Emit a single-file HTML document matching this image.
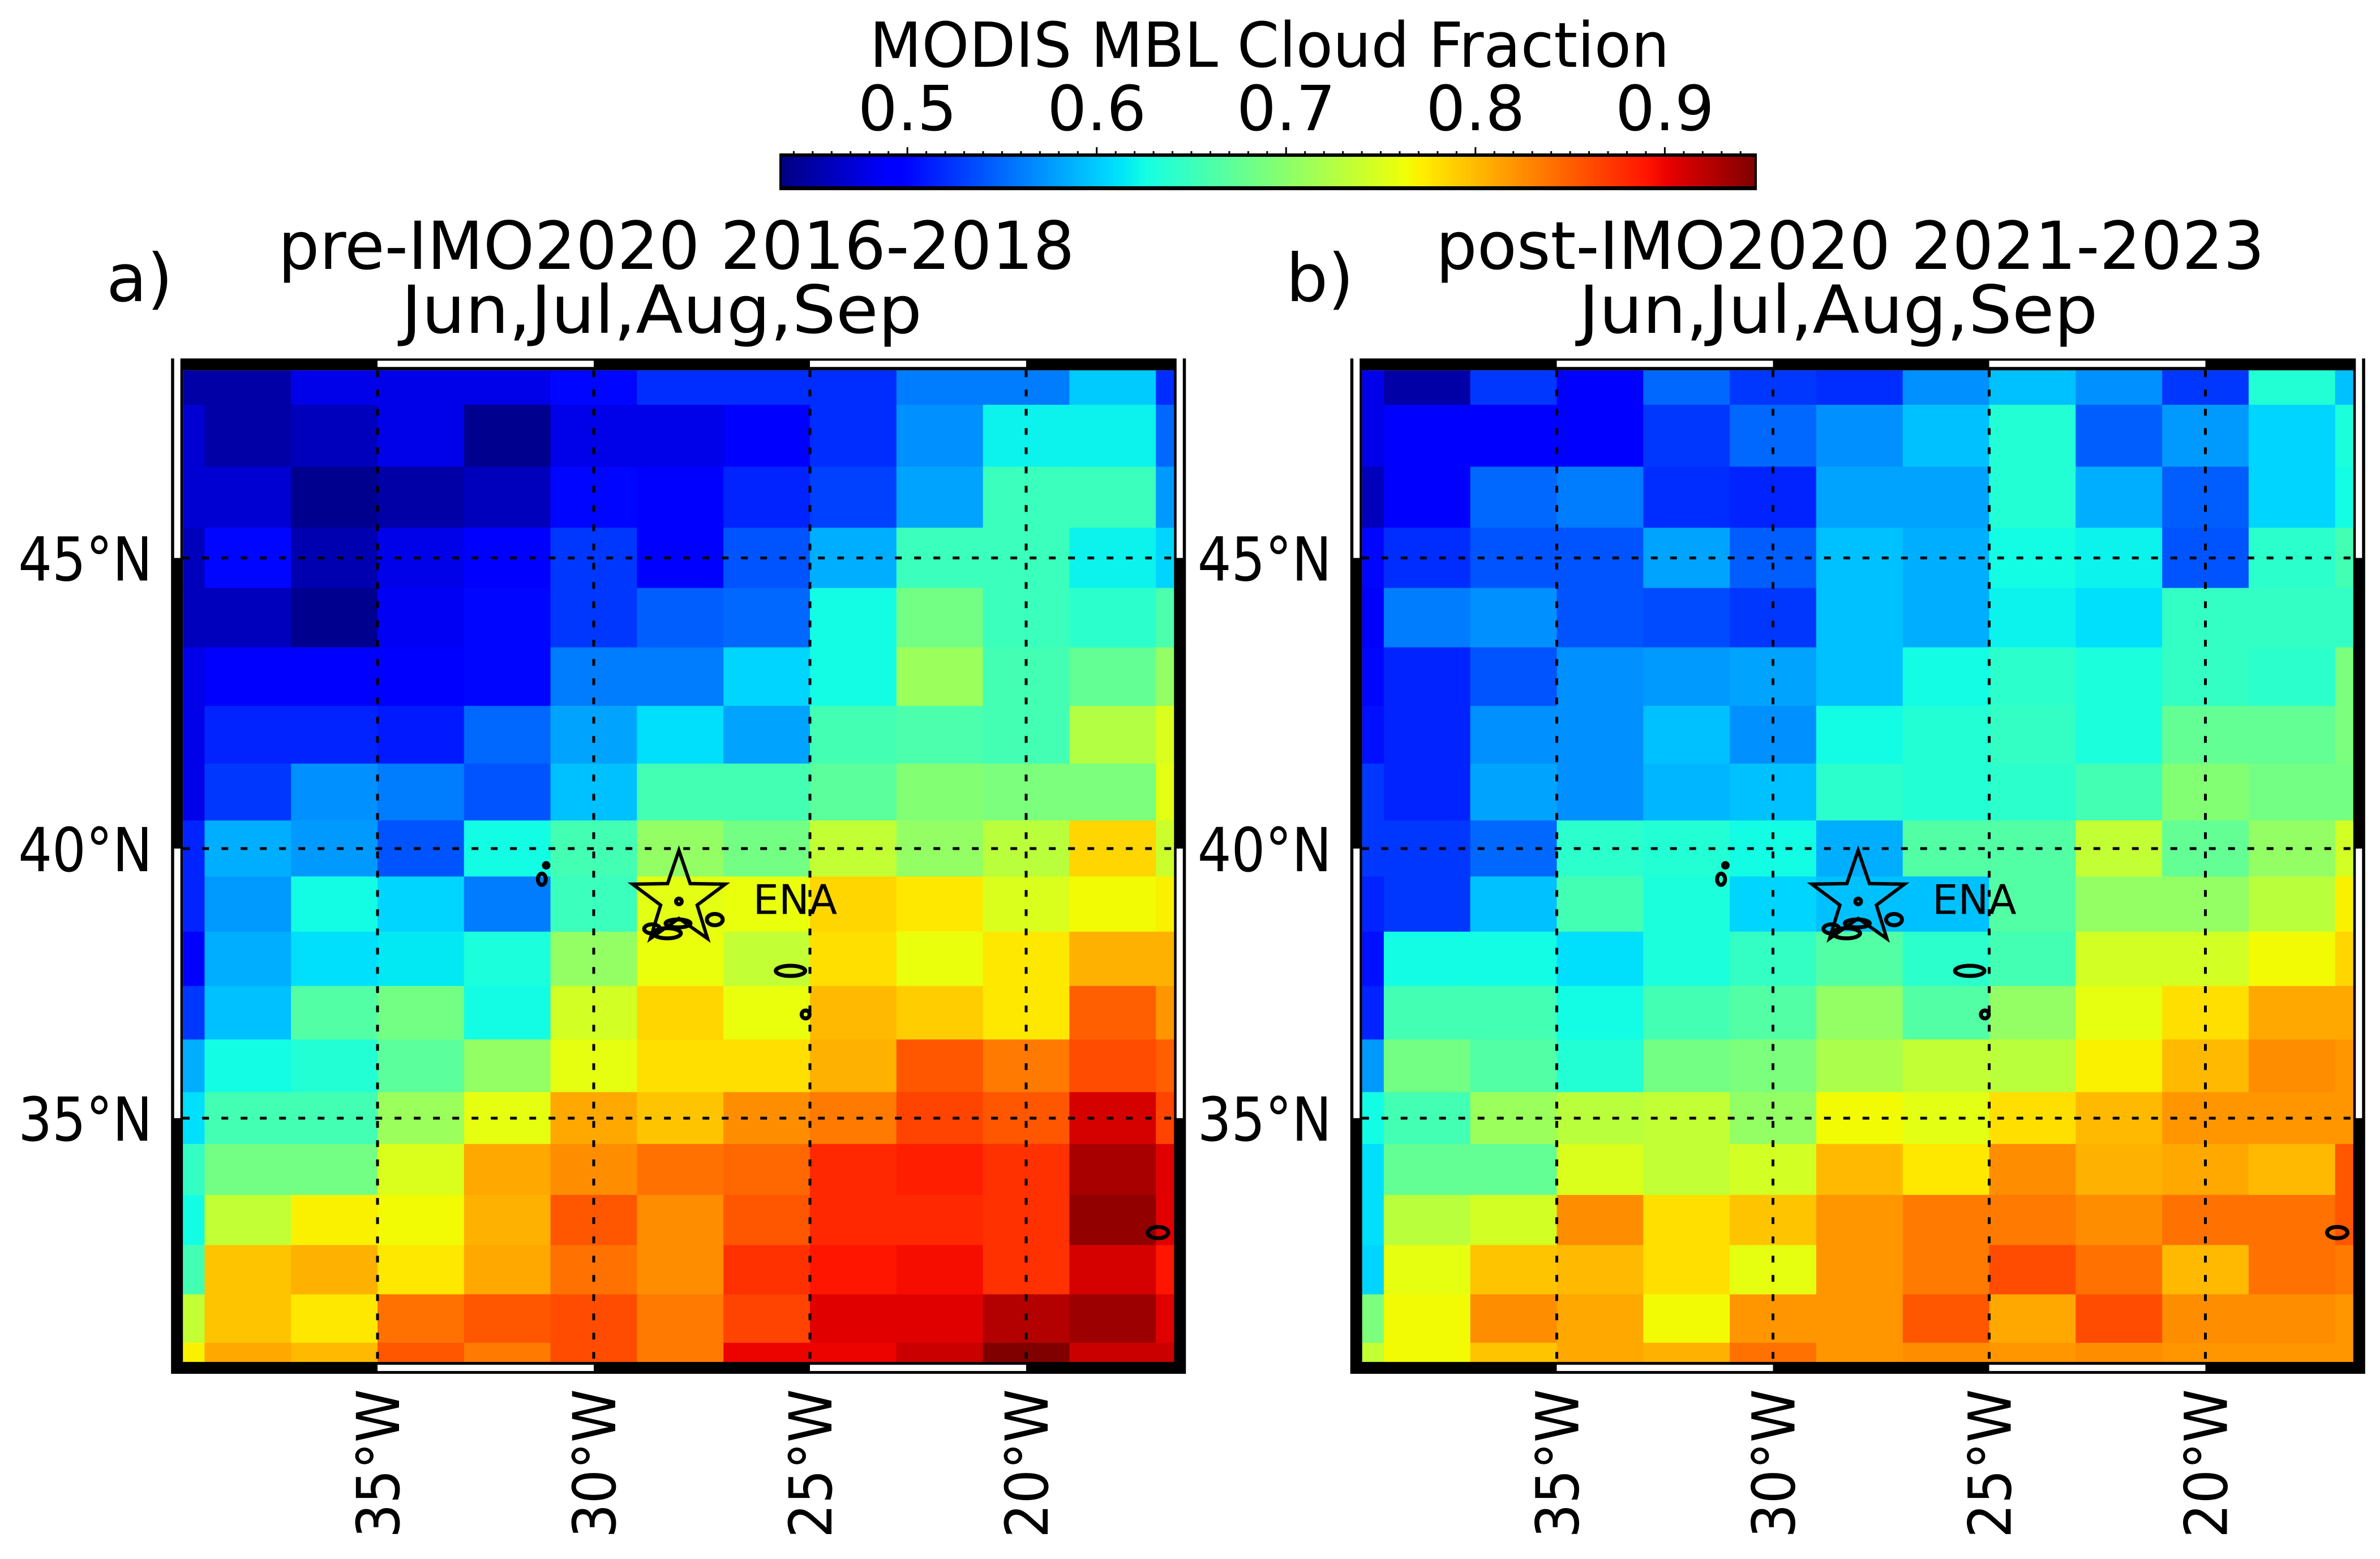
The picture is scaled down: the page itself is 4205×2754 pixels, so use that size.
<!DOCTYPE html>
<html><head><meta charset="utf-8"><title>MODIS MBL Cloud Fraction</title>
<style>html,body{margin:0;padding:0;background:#fff}svg{display:block}text{font-family:"DejaVu Sans","Liberation Sans",sans-serif;fill:#000}</style>
</head><body>
<svg id="fig" xmlns="http://www.w3.org/2000/svg" width="4205" height="2754" viewBox="0 0 4205 2754">
<rect width="4205" height="2754" fill="#fff"/>
<g id="cbar"></g>
<text x="2243" y="118" font-size="110" text-anchor="middle" textLength="1413" lengthAdjust="spacingAndGlyphs">MODIS MBL Cloud Fraction</text>
<g id="panelA"></g>
<g id="panelB"></g>
<text x="188" y="532" font-size="117">a)</text>
<text x="1195" y="475" font-size="117" text-anchor="middle" textLength="1407" lengthAdjust="spacingAndGlyphs">pre-IMO2020 2016-2018</text>
<text x="1169" y="588" font-size="117" text-anchor="middle" textLength="920" lengthAdjust="spacingAndGlyphs">Jun,Jul,Aug,Sep</text>
<text x="2272" y="532" font-size="117">b)</text>
<text x="3269" y="475" font-size="117" text-anchor="middle" textLength="1464" lengthAdjust="spacingAndGlyphs">post-IMO2020 2021-2023</text>
<text x="3248" y="588" font-size="117" text-anchor="middle" textLength="917" lengthAdjust="spacingAndGlyphs">Jun,Jul,Aug,Sep</text>
</svg>
<script>
const NS = "http://www.w3.org/2000/svg";
const vmin = 0.433, vmax = 0.948;
const cbarTicks = [0.5, 0.6, 0.7, 0.8, 0.9];
const cbarTickLabels = ["0.5", "0.6", "0.7", "0.8", "0.9"];
const lonEdges = [-39.5, -39, -37, -35, -33, -31, -29, -27, -25, -23, -21, -19, -17, -16.58];
const latEdges = [48.05, 47.5, 46.5, 45.5, 44.5, 43.5, 42.5, 41.5, 40.5, 39.5, 38.5, 37.5, 36.5, 35.5, 34.5, 33.5, 32.5, 31.5, 30.5, 30.1];
const lonTicks = [-35, -30, -25, -20];
const lonTickLabels = ["35°W", "30°W", "25°W", "20°W"];
const latTicks = [45, 40, 35];
const latTickLabels = ["45°N", "40°N", "35°N"];
const ena = { lon: -28.03, lat: 39.09, label: "ENA" };
const islands = [
  { lon: -31.2, lat: 39.45, rx: 7, ry: 10 }, { lon: -31.1, lat: 39.7, rx: 4, ry: 4 },
  { lon: -28.03, lat: 39.05, rx: 5, ry: 5 }, { lon: -28.65, lat: 38.55, rx: 14, ry: 8 },
  { lon: -28.3, lat: 38.47, rx: 24, ry: 9 }, { lon: -28.05, lat: 38.65, rx: 22, ry: 7 },
  { lon: -27.2, lat: 38.72, rx: 14, ry: 10 }, { lon: -25.45, lat: 37.78, rx: 26, ry: 9 },
  { lon: -25.1, lat: 36.97, rx: 7, ry: 7 }, { lon: -16.95, lat: 32.75, rx: 18, ry: 10 }
];
const preValues = [
  [0.45,0.45,0.48,0.48,0.48,0.50,0.52,0.52,0.52,0.56,0.56,0.60,0.52],
  [0.47,0.45,0.46,0.48,0.44,0.48,0.48,0.49,0.52,0.57,0.62,0.62,0.55],
  [0.47,0.47,0.44,0.45,0.46,0.50,0.49,0.515,0.53,0.58,0.65,0.65,0.575],
  [0.46,0.50,0.455,0.48,0.49,0.525,0.49,0.54,0.585,0.65,0.65,0.62,0.605],
  [0.46,0.46,0.44,0.485,0.50,0.525,0.545,0.55,0.625,0.685,0.65,0.64,0.66],
  [0.48,0.49,0.49,0.49,0.50,0.56,0.56,0.605,0.625,0.71,0.655,0.675,0.705],
  [0.48,0.515,0.515,0.51,0.55,0.58,0.61,0.58,0.655,0.66,0.655,0.725,0.75],
  [0.48,0.525,0.57,0.56,0.54,0.595,0.655,0.655,0.67,0.695,0.69,0.69,0.755],
  [0.515,0.585,0.575,0.54,0.625,0.655,0.705,0.685,0.735,0.705,0.73,0.785,0.74],
  [0.515,0.575,0.625,0.605,0.56,0.65,0.755,0.76,0.785,0.775,0.75,0.765,0.77],
  [0.49,0.585,0.61,0.615,0.63,0.705,0.76,0.735,0.78,0.76,0.775,0.805,0.805],
  [0.525,0.595,0.665,0.685,0.625,0.745,0.785,0.76,0.80,0.79,0.775,0.85,0.82],
  [0.585,0.625,0.635,0.67,0.705,0.757,0.78,0.78,0.805,0.855,0.835,0.86,0.85],
  [0.61,0.655,0.655,0.71,0.757,0.81,0.795,0.825,0.835,0.865,0.855,0.91,0.865],
  [0.645,0.685,0.685,0.75,0.81,0.825,0.84,0.845,0.88,0.885,0.875,0.93,0.905],
  [0.625,0.735,0.77,0.765,0.805,0.855,0.825,0.855,0.88,0.88,0.875,0.94,0.905],
  [0.655,0.795,0.805,0.775,0.81,0.84,0.825,0.875,0.89,0.895,0.875,0.91,0.89],
  [0.735,0.795,0.775,0.84,0.855,0.86,0.835,0.865,0.905,0.905,0.925,0.935,0.905],
  [0.77,0.81,0.80,0.855,0.835,0.86,0.835,0.90,0.90,0.915,0.948,0.915,0.915]
];
const postValues = [
  [0.48,0.45,0.525,0.49,0.55,0.525,0.52,0.57,0.595,0.57,0.525,0.635,0.595],
  [0.48,0.49,0.49,0.49,0.525,0.55,0.57,0.595,0.635,0.545,0.575,0.605,0.63],
  [0.46,0.49,0.55,0.56,0.52,0.515,0.58,0.58,0.635,0.585,0.545,0.605,0.625],
  [0.50,0.52,0.54,0.54,0.58,0.545,0.595,0.585,0.625,0.62,0.54,0.64,0.655],
  [0.49,0.56,0.57,0.54,0.535,0.525,0.595,0.585,0.62,0.61,0.645,0.645,0.645],
  [0.50,0.515,0.54,0.57,0.575,0.58,0.595,0.625,0.64,0.63,0.645,0.64,0.69],
  [0.505,0.515,0.57,0.57,0.595,0.57,0.625,0.635,0.645,0.63,0.675,0.675,0.69],
  [0.525,0.515,0.58,0.57,0.59,0.595,0.64,0.635,0.64,0.655,0.695,0.685,0.685],
  [0.525,0.525,0.55,0.64,0.635,0.625,0.585,0.665,0.665,0.735,0.675,0.705,0.745],
  [0.515,0.525,0.595,0.655,0.63,0.605,0.595,0.595,0.665,0.705,0.705,0.73,0.77],
  [0.505,0.625,0.625,0.61,0.63,0.645,0.665,0.64,0.655,0.745,0.745,0.765,0.785],
  [0.515,0.655,0.655,0.625,0.655,0.665,0.705,0.665,0.705,0.757,0.78,0.81,0.81],
  [0.575,0.685,0.665,0.635,0.685,0.69,0.72,0.735,0.73,0.77,0.80,0.825,0.82],
  [0.625,0.655,0.71,0.73,0.735,0.705,0.765,0.755,0.78,0.80,0.82,0.82,0.82],
  [0.61,0.675,0.675,0.75,0.735,0.745,0.80,0.775,0.825,0.805,0.81,0.80,0.855],
  [0.61,0.73,0.745,0.825,0.78,0.795,0.82,0.835,0.835,0.825,0.84,0.84,0.855],
  [0.605,0.757,0.795,0.80,0.78,0.757,0.82,0.835,0.86,0.84,0.80,0.84,0.835],
  [0.69,0.765,0.825,0.81,0.765,0.82,0.82,0.855,0.81,0.86,0.825,0.825,0.82],
  [0.735,0.765,0.795,0.81,0.805,0.84,0.82,0.825,0.82,0.825,0.82,0.82,0.82]
];

function interp(pts, t) {
  for (let i = 1; i < pts.length; i++) {
    if (t <= pts[i][0]) {
      const [x0, y0] = pts[i - 1], [x1, y1] = pts[i];
      return y0 + (y1 - y0) * (t - x0) / (x1 - x0);
    }
  }
  return pts[pts.length - 1][1];
}
function jet(t) {
  t = Math.max(0, Math.min(1, t));
  const r = interp([[0,0],[0.35,0],[0.66,1],[0.89,1],[1,0.5]], t);
  const g = interp([[0,0],[0.125,0],[0.375,1],[0.64,1],[0.91,0],[1,0]], t);
  const b = interp([[0,0.5],[0.11,1],[0.34,1],[0.65,0],[1,0]], t);
  return `rgb(${Math.round(r*255)},${Math.round(g*255)},${Math.round(b*255)})`;
}
function colorOf(v) { return jet((v - vmin) / (vmax - vmin)); }
function mk(tag, attrs, parent) {
  const el = document.createElementNS(NS, tag);
  for (const k in attrs) el.setAttribute(k, attrs[k]);
  parent.appendChild(el);
  return el;
}
function latToY(lat) { const u = lat - 40; return 1499 - 98.96 * u - 0.743 * u * u; }

const cb = document.getElementById("cbar");
const cbX0 = 1379, cbX1 = 3102, cbY0 = 273, cbY1 = 334;
function cbScale(v) { return cbX0 + (v - vmin) / (vmax - vmin) * (cbX1 - cbX0); }
const nSteps = 300;
for (let i = 0; i < nSteps; i++) {
  const v0 = vmin + (vmax - vmin) * i / nSteps, v1 = vmin + (vmax - vmin) * (i + 1) / nSteps;
  const r = mk("rect", { x: cbScale(v0), y: cbY0, width: cbScale(v1) - cbScale(v0) + 0.8, height: cbY1 - cbY0, fill: colorOf((v0 + v1) / 2) }, cb);
  
  
}
const cbFrame = mk("rect", { x: cbX0, y: cbY0, width: cbX1 - cbX0, height: cbY1 - cbY0, fill: "none", stroke: "#000", "stroke-width": 4 }, cb);


const cbTopBar = mk("rect", { x: cbX0, y: cbY0 - 2, width: cbX1 - cbX0, height: 6, fill: "#000" }, cb);


const cbBotBar = mk("rect", { x: cbX0, y: cbY1 - 5, width: cbX1 - cbX0, height: 7, fill: "#000" }, cb);


for (let m = Math.ceil(vmin * 100); m <= Math.floor(vmax * 100); m++) {
  const v = m / 100;
  const major = m % 10 === 0;
  const tk = mk("line", { x1: cbScale(v), x2: cbScale(v), y1: cbY0, y2: cbY0 - (major ? 13 : 6), stroke: "#000", "stroke-width": 3 }, cb);
  
  
}
cbarTicks.forEach((v, i) => {
  const t = mk("text", { x: cbScale(v), y: 230, "font-size": 110, "text-anchor": "middle" }, cb);
  t.textContent = cbarTickLabels[i];
  
  
});

function drawPanel(g, values, x35) {
  const lonToX = lon => x35 + 76.4 * (lon + 35);
  const L = lonToX(lonEdges[0]), R = lonToX(lonEdges[lonEdges.length - 1]);
  const T = latToY(latEdges[0]), B = latToY(latEdges[latEdges.length - 1]);
  for (let i = 0; i < values.length; i++) {
    for (let j = 0; j < values[i].length; j++) {
      const x0 = lonToX(lonEdges[j]), x1 = lonToX(lonEdges[j + 1]);
      const y0 = latToY(latEdges[i]), y1 = latToY(latEdges[i + 1]);
      const c = mk("rect", { x: x0, y: y0, width: x1 - x0 + 0.6, height: y1 - y0 + 0.6, fill: colorOf(values[i][j]) }, g);
      
      
    }
  }
  lonTicks.forEach(lon => {
    const l = mk("line", { x1: lonToX(lon), x2: lonToX(lon), y1: T, y2: B, stroke: "#000", "stroke-width": 5, "stroke-dasharray": "12 22" }, g);
    
    
  });
  latTicks.forEach(lat => {
    const l = mk("line", { x1: L, x2: R, y1: latToY(lat), y2: latToY(lat), stroke: "#000", "stroke-width": 5, "stroke-dasharray": "12 22" }, g);
    
    
  });
  islands.forEach(is => {
    const e = mk("ellipse", { cx: lonToX(is.lon), cy: latToY(is.lat), rx: is.rx, ry: is.ry, fill: "none", stroke: "#000", "stroke-width": 7 }, g);
    
    
  });
  const cx = lonToX(ena.lon), cy = latToY(ena.lat), Ro = 86, Ri = 34;
  let pts = [];
  for (let k = 0; k < 10; k++) {
    const a = -Math.PI / 2 + k * Math.PI / 5, r = k % 2 ? Ri : Ro;
    pts.push((cx + r * Math.cos(a)).toFixed(1) + "," + (cy + r * Math.sin(a)).toFixed(1));
  }
  const st = mk("polygon", { points: pts.join(" "), fill: "none", stroke: "#000", "stroke-width": 6, "stroke-linejoin": "miter" }, g);
  
  
  const et = mk("text", { x: cx + 131, y: cy + 26, "font-size": 72 }, g);
  et.textContent = ena.label;
  
  
  const fr = mk("rect", { x: L - 10.5, y: T - 10.5, width: R - L + 21, height: B - T + 21, fill: "none", stroke: "#000", "stroke-width": 21 }, g);
  
  
  [[-35, -30], [-25, -20]].forEach(([a, b]) => {
    [T - 11, B + 11].forEach(yy => {
      const s = mk("rect", { x: lonToX(a), y: yy - 6, width: lonToX(b) - lonToX(a), height: 11, fill: "#fff" }, g);
      
      
    });
  });
  [[latEdges[0] + 0.3, 45], [40, 35]].forEach(([a, b]) => {
    [L - 10, R + 10].forEach(xx => {
      const s = mk("rect", { x: xx - 5.5, y: latToY(a), width: 11, height: latToY(b) - latToY(a), fill: "#fff" }, g);
      
      
    });
  });
  latTicks.forEach((lat, i) => {
    const t = mk("text", { x: L - 291, y: latToY(lat) + 40, "font-size": 107, textLength: 237, lengthAdjust: "spacingAndGlyphs" }, g);
    t.textContent = latTickLabels[i];
    
    
  });
  lonTicks.forEach((lon, i) => {
    const x = lonToX(lon) + 38, y = 2717;
    const t = mk("text", { x: x, y: y, "font-size": 104, textLength: 263, lengthAdjust: "spacingAndGlyphs", transform: `rotate(-90 ${x} ${y})` }, g);
    t.textContent = lonTickLabels[i];
    
    
  });
}
drawPanel(document.getElementById("panelA"), preValues, 667);
drawPanel(document.getElementById("panelB"), postValues, 2750.5);
</script>
</body></html>
